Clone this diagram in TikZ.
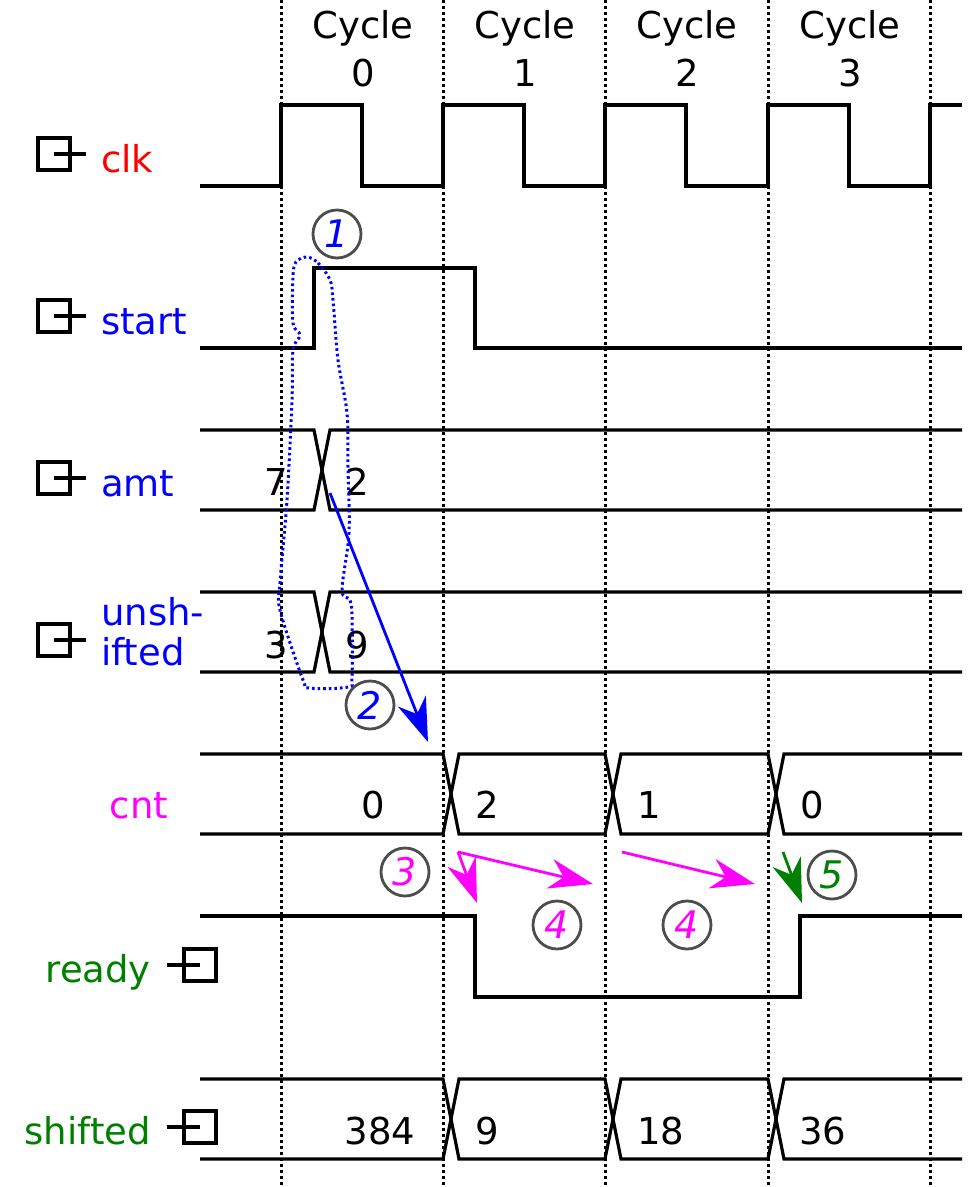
\documentclass[tikz,border=0pt]{standalone}
\usepackage{fontspec}
\setmainfont{DejaVu Sans}
\usetikzlibrary{arrows.meta}
\definecolor{sgreen}{RGB}{0,128,0}
\definecolor{smag}{RGB}{255,0,255}
\definecolor{sblue}{RGB}{0,0,255}
\definecolor{sred}{RGB}{255,0,0}
\definecolor{circgray}{RGB}{77,77,77}
\begin{document}
\begin{tikzpicture}[x=1pt,y=-1pt,
  wave/.style={line width=3.2pt, line join=miter},
  gridline/.style={line width=3pt, dash pattern=on 2.6pt off 3.4pt},
  lbl/.style={inner sep=0pt, font=\fontsize{37}{40}\selectfont},
  circ/.style={circle, draw=circgray, line width=2.8pt, minimum size=48pt, inner sep=0pt, font=\fontsize{38}{40}\selectfont\itshape},
  port/.style={draw, line width=3.2pt, minimum size=32pt, inner sep=0pt},
  arr/.style={line width=2.8pt, -{Stealth[length=44pt,width=30pt,inset=14pt]}},
  outline/.style={sblue, line width=3pt, dash pattern=on 2.6pt off 3pt},
]
\useasboundingbox (0,0) rectangle (974,1187);

% cycle grid
\foreach \x in {281,443,605,768,930} \draw[gridline] (\x,0) -- (\x,1187);

% cycle labels
\foreach \x/\n in {363/0,525/1,687/2,850/3} {
  \node[lbl, anchor=base] (cyc\n) at (\x,38) {Cycle};
  \node[lbl, anchor=base] (cycn\n) at (\x,86) {\n};
}

% ports
\foreach \y/\nm in {154/clk,316/start,478/amt,640/unsh} {
  \node[port] (p\nm) at (54,\y) {};
  \draw[line width=3.2pt] (p\nm.center) -- ++(32,0);
}
\foreach \y/\nm in {965/ready,1127/shifted} {
  \node[port] (p\nm) at (200,\y) {};
  \draw[line width=3.2pt] (p\nm.center) -- ++(-33,0);
}

% signal names
\node[lbl, anchor=base west, text=sred] (nclk) at (101,172) {clk};
\node[lbl, anchor=base west, text=sblue] (nstart) at (101,334) {start};
\node[lbl, anchor=base west, text=sblue] (namt) at (101,496) {amt};
\node[lbl, anchor=base west, text=sblue] (nunsh1) at (101,625) {unsh-};
\node[lbl, anchor=base west, text=sblue] (nunsh2) at (101,665) {ifted};
\node[lbl, anchor=base, text=smag] (ncnt) at (139,818) {cnt};
\node[lbl, anchor=base east, text=sgreen] (nready) at (151,982) {ready};
\node[lbl, anchor=base east, text=sgreen] (nshifted) at (151,1144) {shifted};

% clk
\draw[wave] (200,186) -- (281,186) -- (281,105) -- (362,105) -- (362,186) -- (443,186) -- (443,105) -- (524,105) -- (524,186) -- (605,186) -- (605,105) -- (686,105) -- (686,186) -- (768,186) -- (768,105) -- (849,105) -- (849,186) -- (930,186) -- (930,105) -- (962,105);
% start
\draw[wave] (200,348) -- (314,348) -- (314,268) -- (475,268) -- (475,348) -- (962,348);
% amt
\draw[wave] (200,430) -- (314,430) -- (330,510) -- (962,510);
\draw[wave] (200,510) -- (314,510) -- (330,430) -- (962,430);
% unshifted
\draw[wave] (200,592) -- (314,592) -- (330,672) -- (962,672);
\draw[wave] (200,672) -- (314,672) -- (330,592) -- (962,592);
% cnt
\draw[wave] (200,754) -- (443,754) -- (459,834) -- (605,834) -- (621,754) -- (768,754) -- (784,834) -- (962,834);
\draw[wave] (200,834) -- (443,834) -- (459,754) -- (605,754) -- (621,834) -- (768,834) -- (784,754) -- (962,754);
% ready
\draw[wave] (200,916) -- (475,916) -- (475,997) -- (800,997) -- (800,916) -- (962,916);
% shifted
\draw[wave] (200,1079) -- (443,1079) -- (459,1159) -- (605,1159) -- (621,1079) -- (768,1079) -- (784,1159) -- (962,1159);
\draw[wave] (200,1159) -- (443,1159) -- (459,1079) -- (605,1079) -- (621,1159) -- (768,1159) -- (784,1079) -- (962,1079);

% values
\node[lbl, anchor=base] (v7) at (276,495) {7};
\node[lbl, anchor=base] (v2) at (357,495) {2};
\node[lbl, anchor=base] (v3) at (276,658) {3};
\node[lbl, anchor=base] (v9) at (357,658) {9};
\node[lbl, anchor=base] (c0) at (373,818) {0};
\node[lbl, anchor=base] (c2) at (487,818) {2};
\node[lbl, anchor=base] (c1) at (649,818) {1};
\node[lbl, anchor=base] (c0b) at (812,818) {0};
\node[lbl, anchor=base] (s384) at (380,1144) {384};
\node[lbl, anchor=base] (s9) at (487,1144) {9};
\node[lbl, anchor=base] (s18) at (661,1144) {18};
\node[lbl, anchor=base] (s36) at (823,1144) {36};

% dotted outline
\draw[outline] plot[smooth cycle, tension=0.55] coordinates {
 (307,257) (318,263) (330,280) (333,300) (338,360) (347,413) (348,467)
 (349,533) (342,590) (350,600) (352,617) (352,677) (348,687) (310,688)
 (303,680) (280,610) (280,583) (287,500) (292,400) (293,350) (300,335)
 (293,323) (293,277) (296,262)};

% step circles
\node[circ, text=sblue] (k1) at (337,234) {1};
\node[circ, text=sblue] (k2) at (370,705) {2};
\node[circ, text=smag] (k3) at (405,872) {3};
\node[circ, text=smag] (k4a) at (557,925) {4};
\node[circ, text=smag] (k4b) at (687,925) {4};
\node[circ, text=sgreen] (k5) at (832,875) {5};

% arrows
\coordinate (a1s) at (330,493); \coordinate (a1e) at (428,742);
\coordinate (a3s) at (458,852); \coordinate (a3e) at (477,903);
\coordinate (a4e) at (593,884);
\coordinate (a5s) at (622,852); \coordinate (a5e) at (755,884);
\coordinate (a6s) at (783,852); \coordinate (a6e) at (802,903);
\draw[arr, sblue] (a1s) -- (a1e);
\draw[arr, smag] (a3s) -- (a3e);
\draw[arr, smag] (a3s) -- (a4e);
\draw[arr, smag] (a5s) -- (a5e);
\draw[arr, sgreen] (a6s) -- (a6e);
\end{tikzpicture}
\end{document}
